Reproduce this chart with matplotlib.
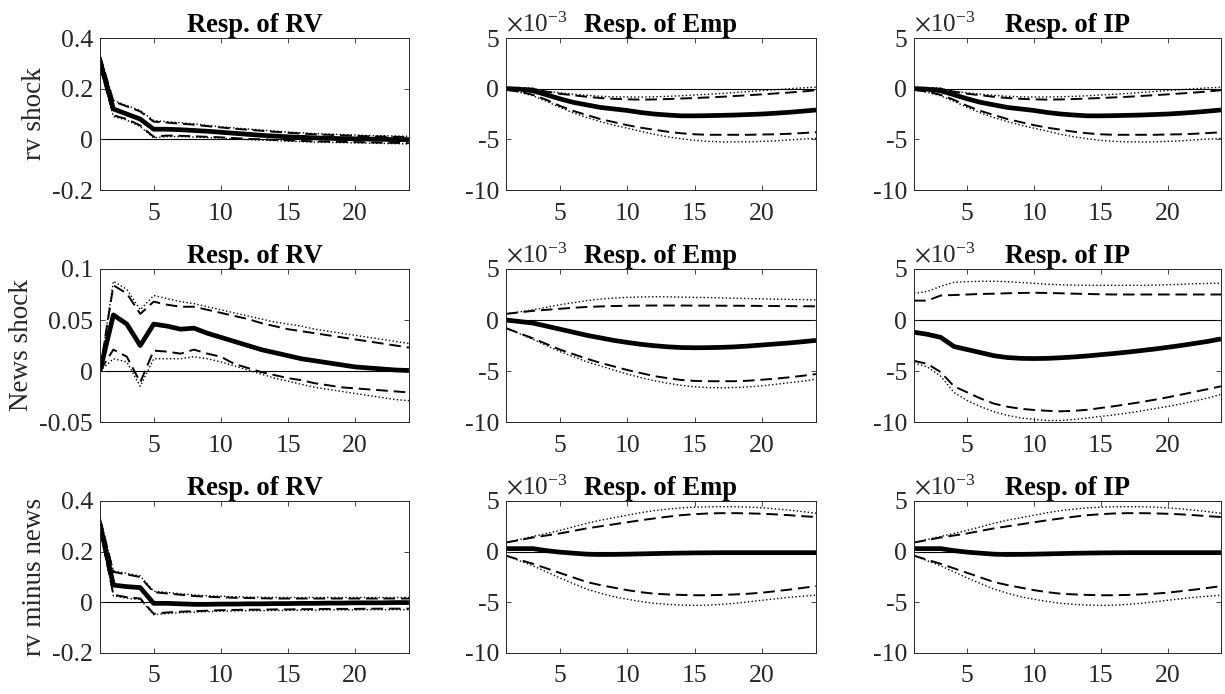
import numpy as np
import matplotlib
matplotlib.use("Agg")
import matplotlib.pyplot as plt
from matplotlib.ticker import FuncFormatter

plt.rcParams["font.family"] = ["Liberation Serif", "DejaVu Serif"]
plt.rcParams["mathtext.fontset"] = "stix"
plt.rcParams["axes.unicode_minus"] = False

horizon = np.arange(1, 25)
row_labels = ["rv shock", "News shock", "rv minus news"]
col_titles = ["Resp. of RV", "Resp. of Emp", "Resp. of IP"]

# --- Resp. of RV ---------------------------------------------------------
rv_rv_med = [0.31, 0.12, 0.10, 0.08, 0.04, 0.04, 0.038, 0.035, 0.032, 0.028, 0.024, 0.02,
             0.016, 0.013, 0.01, 0.008, 0.006, 0.004, 0.003, 0.002, 0.001, 0.0, -0.001, -0.001]
rv_rv_hi68 = [0.33, 0.15, 0.13, 0.11, 0.07, 0.066, 0.062, 0.058, 0.052, 0.047, 0.042, 0.038,
              0.034, 0.03, 0.026, 0.023, 0.02, 0.018, 0.016, 0.014, 0.012, 0.011, 0.01, 0.009]
rv_rv_hi90 = [0.335, 0.154, 0.134, 0.114, 0.074, 0.07, 0.066, 0.061, 0.055, 0.05, 0.045, 0.041,
              0.037, 0.033, 0.029, 0.026, 0.023, 0.021, 0.019, 0.017, 0.015, 0.014, 0.013, 0.012]
rv_rv_lo68 = [0.29, 0.095, 0.08, 0.055, 0.01, 0.015, 0.014, 0.012, 0.01, 0.008, 0.005, 0.002,
              0.0, -0.002, -0.004, -0.006, -0.008, -0.009, -0.01, -0.011, -0.012, -0.013, -0.014, -0.015]
rv_rv_lo90 = [0.285, 0.09, 0.076, 0.05, 0.006, 0.011, 0.011, 0.009, 0.007, 0.005, 0.002, -0.001,
              -0.003, -0.005, -0.007, -0.009, -0.011, -0.012, -0.013, -0.014, -0.015, -0.016, -0.017, -0.018]

news_rv_med = [0.0, 0.055, 0.046, 0.025, 0.046, 0.044, 0.041, 0.042, 0.037, 0.033, 0.029, 0.025,
               0.021, 0.018, 0.015, 0.012, 0.010, 0.008, 0.006, 0.004, 0.003, 0.002, 0.001, 0.0005]
news_rv_hi68 = [0.0, 0.084, 0.076, 0.056, 0.068, 0.065, 0.063, 0.063, 0.060, 0.057, 0.054, 0.051,
                0.047, 0.044, 0.041, 0.039, 0.037, 0.035, 0.033, 0.031, 0.029, 0.027, 0.025, 0.023]
news_rv_hi90 = [0.0, 0.088, 0.08, 0.06, 0.074, 0.071, 0.068, 0.066, 0.063, 0.060, 0.057, 0.054,
                0.051, 0.048, 0.046, 0.044, 0.041, 0.039, 0.037, 0.035, 0.033, 0.031, 0.029, 0.027]
news_rv_lo68 = [0.0, 0.021, 0.014, -0.011, 0.020, 0.019, 0.017, 0.021, 0.017, 0.014, 0.007, 0.003,
                -0.001, -0.004, -0.007, -0.009, -0.012, -0.014, -0.016, -0.017, -0.018, -0.019, -0.020, -0.021]
news_rv_lo90 = [0.0, 0.012, 0.009, -0.015, 0.012, 0.012, 0.012, 0.014, 0.012, 0.009, 0.005, 0.001,
                -0.003, -0.007, -0.010, -0.013, -0.016, -0.018, -0.020, -0.022, -0.024, -0.026, -0.028, -0.029]

rvmn_rv_med = [0.31, 0.068, 0.062, 0.058, -0.004, -0.004, -0.006, -0.008, -0.008, -0.007, -0.007, -0.006,
               -0.006, -0.005, -0.005, -0.004, -0.004, -0.003, -0.003, -0.002, -0.002, -0.002, -0.001, -0.001]
rvmn_rv_hi68 = [0.33, 0.12, 0.11, 0.10, 0.04, 0.035, 0.03, 0.025, 0.022, 0.02, 0.018, 0.017,
                0.016, 0.015, 0.015, 0.015, 0.015, 0.015, 0.015, 0.015, 0.015, 0.015, 0.015, 0.015]
rvmn_rv_hi90 = [0.334, 0.124, 0.114, 0.104, 0.044, 0.039, 0.034, 0.029, 0.026, 0.024, 0.022, 0.021,
                0.02, 0.019, 0.019, 0.019, 0.019, 0.019, 0.019, 0.019, 0.019, 0.019, 0.019, 0.019]
rvmn_rv_lo68 = [0.29, 0.03, 0.02, 0.015, -0.045, -0.04, -0.037, -0.035, -0.033, -0.031, -0.03, -0.029,
                -0.029, -0.028, -0.028, -0.027, -0.027, -0.026, -0.026, -0.026, -0.025, -0.025, -0.025, -0.025]
rvmn_rv_lo90 = [0.286, 0.026, 0.016, 0.011, -0.049, -0.044, -0.041, -0.039, -0.037, -0.035, -0.034, -0.033,
                -0.033, -0.032, -0.032, -0.031, -0.031, -0.03, -0.03, -0.03, -0.029, -0.029, -0.029, -0.029]

# --- Resp. of Emp (units of 1e-3) --------------------------------------------
rv_emp_med = [0.0, -0.05, -0.2, -0.6, -1.0, -1.35, -1.6, -1.85, -2.0, -2.15, -2.35, -2.5,
              -2.6, -2.68, -2.68, -2.66, -2.63, -2.6, -2.55, -2.5, -2.42, -2.33, -2.22, -2.1]
rv_emp_hi68 = [0.1, 0.05, 0.0, -0.3, -0.5, -0.65, -0.8, -0.92, -1.0, -1.05, -1.08, -1.06,
               -1.02, -0.97, -0.92, -0.86, -0.8, -0.72, -0.64, -0.56, -0.47, -0.38, -0.28, -0.15]
rv_emp_hi90 = [0.15, 0.1, 0.05, -0.25, -0.4, -0.55, -0.65, -0.75, -0.8, -0.82, -0.82, -0.8,
               -0.75, -0.7, -0.62, -0.55, -0.47, -0.38, -0.28, -0.18, -0.1, 0.0, 0.08, 0.15]
rv_emp_lo68 = [-0.1, -0.3, -0.6, -1.1, -1.7, -2.2, -2.6, -3.0, -3.3, -3.6, -3.85, -4.05,
               -4.25, -4.4, -4.5, -4.55, -4.55, -4.55, -4.55, -4.52, -4.5, -4.45, -4.38, -4.3]
rv_emp_lo90 = [-0.1, -0.35, -0.7, -1.25, -1.85, -2.4, -2.85, -3.25, -3.6, -3.9, -4.2, -4.5,
               -4.75, -4.95, -5.1, -5.2, -5.25, -5.25, -5.25, -5.2, -5.15, -5.05, -4.98, -4.9]

news_emp_med = [0.0, -0.15, -0.3, -0.6, -0.9, -1.2, -1.5, -1.75, -2.0, -2.2, -2.38, -2.52,
                -2.63, -2.7, -2.72, -2.71, -2.68, -2.63, -2.55, -2.45, -2.35, -2.25, -2.13, -2.0]
news_emp_hi68 = [0.6, 0.75, 0.9, 1.0, 1.1, 1.2, 1.28, 1.33, 1.37, 1.4, 1.41, 1.42,
                 1.42, 1.42, 1.41, 1.41, 1.4, 1.4, 1.39, 1.38, 1.37, 1.36, 1.35, 1.34]
news_emp_hi90 = [0.6, 0.8, 1.0, 1.25, 1.5, 1.7, 1.9, 2.05, 2.15, 2.22, 2.26, 2.28,
                 2.27, 2.25, 2.22, 2.2, 2.17, 2.14, 2.1, 2.07, 2.04, 2.02, 2.0, 1.97]
news_emp_lo68 = [-0.8, -1.3, -1.8, -2.35, -2.9, -3.35, -3.8, -4.2, -4.55, -4.9, -5.2, -5.5,
                 -5.7, -5.88, -5.97, -6.0, -6.0, -6.0, -5.95, -5.85, -5.75, -5.62, -5.47, -5.3]
news_emp_lo90 = [-0.8, -1.35, -1.9, -2.5, -3.1, -3.6, -4.1, -4.5, -4.9, -5.3, -5.65, -5.95,
                 -6.2, -6.4, -6.55, -6.62, -6.65, -6.62, -6.55, -6.45, -6.3, -6.15, -6.0, -5.8]

rvmn_emp_med = [0.3, 0.3, 0.3, 0.1, -0.05, -0.15, -0.25, -0.28, -0.27, -0.25, -0.22, -0.19,
                -0.16, -0.14, -0.12, -0.11, -0.1, -0.1, -0.1, -0.1, -0.1, -0.1, -0.1, -0.1]
rvmn_emp_hi68 = [0.9, 1.15, 1.4, 1.6, 1.8, 2.05, 2.3, 2.5, 2.7, 2.9, 3.1, 3.28,
                 3.45, 3.6, 3.7, 3.77, 3.8, 3.8, 3.78, 3.74, 3.68, 3.6, 3.5, 3.42]
rvmn_emp_hi90 = [0.9, 1.2, 1.5, 1.8, 2.1, 2.45, 2.8, 3.1, 3.35, 3.6, 3.85, 4.05,
                 4.2, 4.32, 4.4, 4.43, 4.44, 4.43, 4.4, 4.33, 4.22, 4.1, 3.95, 3.8]
rvmn_emp_lo68 = [-0.4, -0.8, -1.2, -1.65, -2.1, -2.55, -3.0, -3.3, -3.55, -3.8, -4.0, -4.15,
                 -4.22, -4.27, -4.3, -4.3, -4.27, -4.22, -4.15, -4.05, -3.9, -3.75, -3.58, -3.4]
rvmn_emp_lo90 = [-0.4, -0.9, -1.4, -2.0, -2.6, -3.15, -3.7, -4.1, -4.45, -4.7, -4.92, -5.1,
                 -5.2, -5.27, -5.3, -5.28, -5.2, -5.1, -4.95, -4.8, -4.65, -4.5, -4.4, -4.3]

# --- Resp. of IP (units of 1e-3) ---------------------------------------------
rv_ip_med = list(rv_emp_med)
rv_ip_hi68 = list(rv_emp_hi68)
rv_ip_hi90 = list(rv_emp_hi90)
rv_ip_lo68 = list(rv_emp_lo68)
rv_ip_lo90 = list(rv_emp_lo90)

news_ip_med = [-1.2, -1.4, -1.7, -2.6, -2.9, -3.2, -3.5, -3.68, -3.76, -3.78, -3.76, -3.7,
               -3.62, -3.52, -3.4, -3.28, -3.15, -3.0, -2.85, -2.68, -2.5, -2.3, -2.1, -1.85]
news_ip_hi68 = [1.9, 1.9, 2.4, 2.45, 2.5, 2.55, 2.58, 2.62, 2.65, 2.67, 2.65, 2.62,
                2.58, 2.55, 2.52, 2.5, 2.5, 2.5, 2.5, 2.5, 2.5, 2.5, 2.5, 2.5]
news_ip_hi90 = [2.6, 2.8, 3.3, 3.7, 3.75, 3.8, 3.8, 3.75, 3.68, 3.6, 3.5, 3.45,
                3.42, 3.4, 3.4, 3.4, 3.4, 3.4, 3.42, 3.45, 3.5, 3.55, 3.58, 3.6]
news_ip_lo68 = [-4.0, -4.3, -5.1, -6.5, -7.1, -7.7, -8.2, -8.5, -8.7, -8.82, -8.9, -8.95,
                -8.9, -8.8, -8.62, -8.45, -8.25, -8.05, -7.82, -7.58, -7.32, -7.05, -6.78, -6.5]
news_ip_lo90 = [-4.2, -4.6, -5.5, -7.1, -7.9, -8.5, -9.0, -9.35, -9.6, -9.75, -9.85, -9.85,
                -9.75, -9.6, -9.45, -9.3, -9.12, -8.92, -8.7, -8.48, -8.22, -7.95, -7.65, -7.3]

rvmn_ip_med = list(rvmn_emp_med)
rvmn_ip_hi68 = list(rvmn_emp_hi68)
rvmn_ip_hi90 = list(rvmn_emp_hi90)
rvmn_ip_lo68 = list(rvmn_emp_lo68)
rvmn_ip_lo90 = list(rvmn_emp_lo90)

panels = [
    [(rv_rv_med, rv_rv_hi68, rv_rv_lo68, rv_rv_hi90, rv_rv_lo90),
     (rv_emp_med, rv_emp_hi68, rv_emp_lo68, rv_emp_hi90, rv_emp_lo90),
     (rv_ip_med, rv_ip_hi68, rv_ip_lo68, rv_ip_hi90, rv_ip_lo90)],
    [(news_rv_med, news_rv_hi68, news_rv_lo68, news_rv_hi90, news_rv_lo90),
     (news_emp_med, news_emp_hi68, news_emp_lo68, news_emp_hi90, news_emp_lo90),
     (news_ip_med, news_ip_hi68, news_ip_lo68, news_ip_hi90, news_ip_lo90)],
    [(rvmn_rv_med, rvmn_rv_hi68, rvmn_rv_lo68, rvmn_rv_hi90, rvmn_rv_lo90),
     (rvmn_emp_med, rvmn_emp_hi68, rvmn_emp_lo68, rvmn_emp_hi90, rvmn_emp_lo90),
     (rvmn_ip_med, rvmn_ip_hi68, rvmn_ip_lo68, rvmn_ip_hi90, rvmn_ip_lo90)],
]

rv_ylims = [(-0.2, 0.4), (-0.05, 0.1), (-0.2, 0.4)]
rv_yticks = [[-0.2, 0, 0.2, 0.4], [-0.05, 0, 0.05, 0.1], [-0.2, 0, 0.2, 0.4]]
macro_ylim = (-10, 5)
macro_yticks = [-10, -5, 0, 5]

# axes layout in figure fractions (left, bottom, width, height)
lefts = [0.0816, 0.4131, 0.7461]
widths = [0.2522, 0.2530, 0.2506]
bottoms = [0.7262, 0.3919, 0.0591]
heights = [0.2190, 0.2205, 0.2190]

tick_col = (0.15, 0.15, 0.15)
fmt = FuncFormatter(lambda v, p: "%g" % v)

fig = plt.figure(figsize=(12.25, 6.94), dpi=100)

for r in range(3):
    for c in range(3):
        ax = fig.add_axes([lefts[c], bottoms[r], widths[c], heights[r]])
        med, hi68, lo68, hi90, lo90 = panels[r][c]
        ax.axhline(0, color="black", lw=0.8, zorder=1)
        ax.plot(horizon, hi90, color="black", ls=":", lw=1.0)
        ax.plot(horizon, lo90, color="black", ls=":", lw=1.0)
        ax.plot(horizon, hi68, color="black", ls=(0, (6, 3)), lw=1.4)
        ax.plot(horizon, lo68, color="black", ls=(0, (6, 3)), lw=1.4)
        ax.plot(horizon, med, color="black", lw=3.4, solid_capstyle="butt")

        ax.set_xlim(1, 24)
        ax.set_xticks([5, 10, 15, 20])
        if c == 0:
            ax.set_ylim(*rv_ylims[r])
            ax.set_yticks(rv_yticks[r])
            ax.set_ylabel(row_labels[r], fontsize=19.5, color=tick_col, labelpad=4)
        else:
            ax.set_ylim(*macro_ylim)
            ax.set_yticks(macro_yticks)
            ax.text(0.0, 1.005, r"$\times\mathregular{10}^{\mathregular{-3}}$", transform=ax.transAxes,
                    fontsize=18, color=tick_col, ha="left", va="bottom")
        ax.yaxis.set_major_formatter(fmt)
        ax.tick_params(direction="in", top=True, right=True, length=3.5, width=0.6,
                       labelsize=18.5, colors=tick_col)
        ax.tick_params(axis="x", pad=9)
        ax.tick_params(axis="y", pad=5)
        for sp in ax.spines.values():
            sp.set_color(tick_col)
            sp.set_linewidth(0.7)
        ax.set_title(col_titles[c], fontsize=19.2, fontweight="bold", pad=4)

fig.savefig("out.png", dpi=100)
